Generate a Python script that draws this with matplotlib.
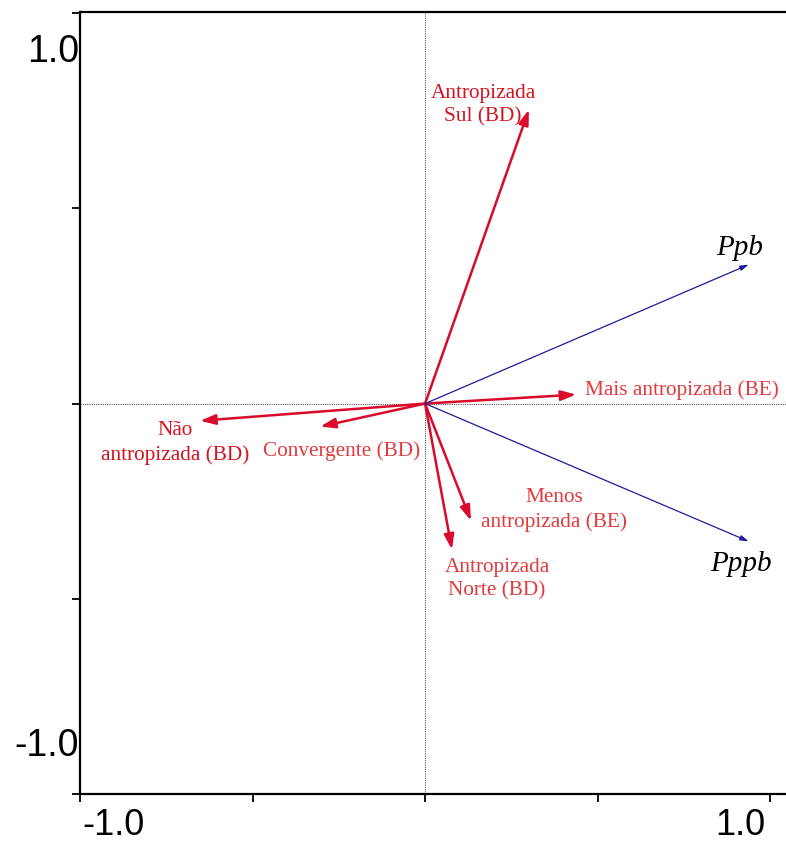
import matplotlib
matplotlib.use("Agg")
import matplotlib.pyplot as plt

# Response variables (blue arrows)
resp_names = ["Ppb", "Pppb"]
resp_x = [0.938, 0.938]
resp_y = [0.356, -0.353]

# Explanatory variables (red arrows)
env_names = ["Antropizada\nSul (BD)", "Mais antropizada (BE)", "Não\nantropizada (BD)",
             "Convergente (BD)", "Menos\nantropizada (BE)", "Antropizada\nNorte (BD)"]
env_x = [0.301, 0.438, -0.652, -0.304, 0.133, 0.078]
env_y = [0.753, 0.023, -0.044, -0.059, -0.300, -0.374]

tick_vals = [-1.0, -0.5, 0.0, 0.5, 1.0]

W, H = 786, 845
fig = plt.figure(figsize=(W / 100, H / 100), dpi=100)
ax = fig.add_axes([80 / W, 1 - 795 / H, 1.0 - 80 / W, (795 - 13) / H])
ax.set_xlim(-1.0, 1.046)
ax.set_ylim(-1.0, 1.003)

ax.spines["right"].set_visible(False)
for s in ["left", "top", "bottom"]:
    ax.spines[s].set_linewidth(1.6)

ax.set_xticks(tick_vals)
ax.set_yticks(tick_vals)
ax.set_xticklabels([])
ax.set_yticklabels([])
ax.tick_params(direction="out", length=6, width=1.3, top=False, right=False)

ax.axhline(0, color="#555555", lw=0.8, ls=(0, (1, 1)))
ax.axvline(0, color="#555555", lw=0.8, ls=(0, (1, 1)))

arrow_red = "#da0a2c"
for x, y in zip(env_x, env_y):
    ax.annotate("", xy=(x, y), xytext=(0, 0),
                arrowprops=dict(arrowstyle="-|>,head_length=0.9,head_width=0.3",
                                color=arrow_red, lw=1.8, shrinkA=0, shrinkB=0))
for x, y in zip(resp_x, resp_y):
    ax.annotate("", xy=(x, y), xytext=(0, 0),
                arrowprops=dict(arrowstyle="-|>,head_length=0.5,head_width=0.15",
                                color="#1c1c9c", lw=0.9, shrinkA=0, shrinkB=0))

def px(xp, yp):
    inv = ax.transData.inverted()
    return inv.transform(fig.transFigure.transform((xp / W, 1 - yp / H)))

serif = ["Liberation Serif", "DejaVu Serif"]
dark = "#d2141f"
light = "#e23a3e"
label_pos = [(483, 105, "center", dark), (585, 390, "left", light), (175, 443, "center", dark),
             (342, 451, "center", light), (554, 510, "center", light), (497, 579, "center", light)]
for name, (xp, yp, ha, c) in zip(env_names, label_pos):
    xd, yd = px(xp, yp)
    ax.text(xd, yd, name, ha=ha, va="center", color=c, fontsize=15.3,
            family=serif, linespacing=1.32)

resp_pos = [(740, 248), (741, 564)]
for name, (xp, yp) in zip(resp_names, resp_pos):
    xd, yd = px(xp, yp)
    ax.text(xd, yd, name, ha="center", va="center", color="black", fontsize=21,
            family=serif, style="italic")

sans = ["Liberation Sans", "DejaVu Sans"]
fig.text(79 / W, 1 - 52 / H, "1.0", ha="right", va="center", fontsize=27, family=sans)
fig.text(79 / W, 1 - 746 / H, "-1.0", ha="right", va="center", fontsize=27, family=sans)
fig.text(113 / W, 1 - 826 / H, "-1.0", ha="center", va="center", fontsize=26, family=sans)
fig.text(740 / W, 1 - 826 / H, "1.0", ha="center", va="center", fontsize=26, family=sans)

fig.savefig("out.png", dpi=100)
